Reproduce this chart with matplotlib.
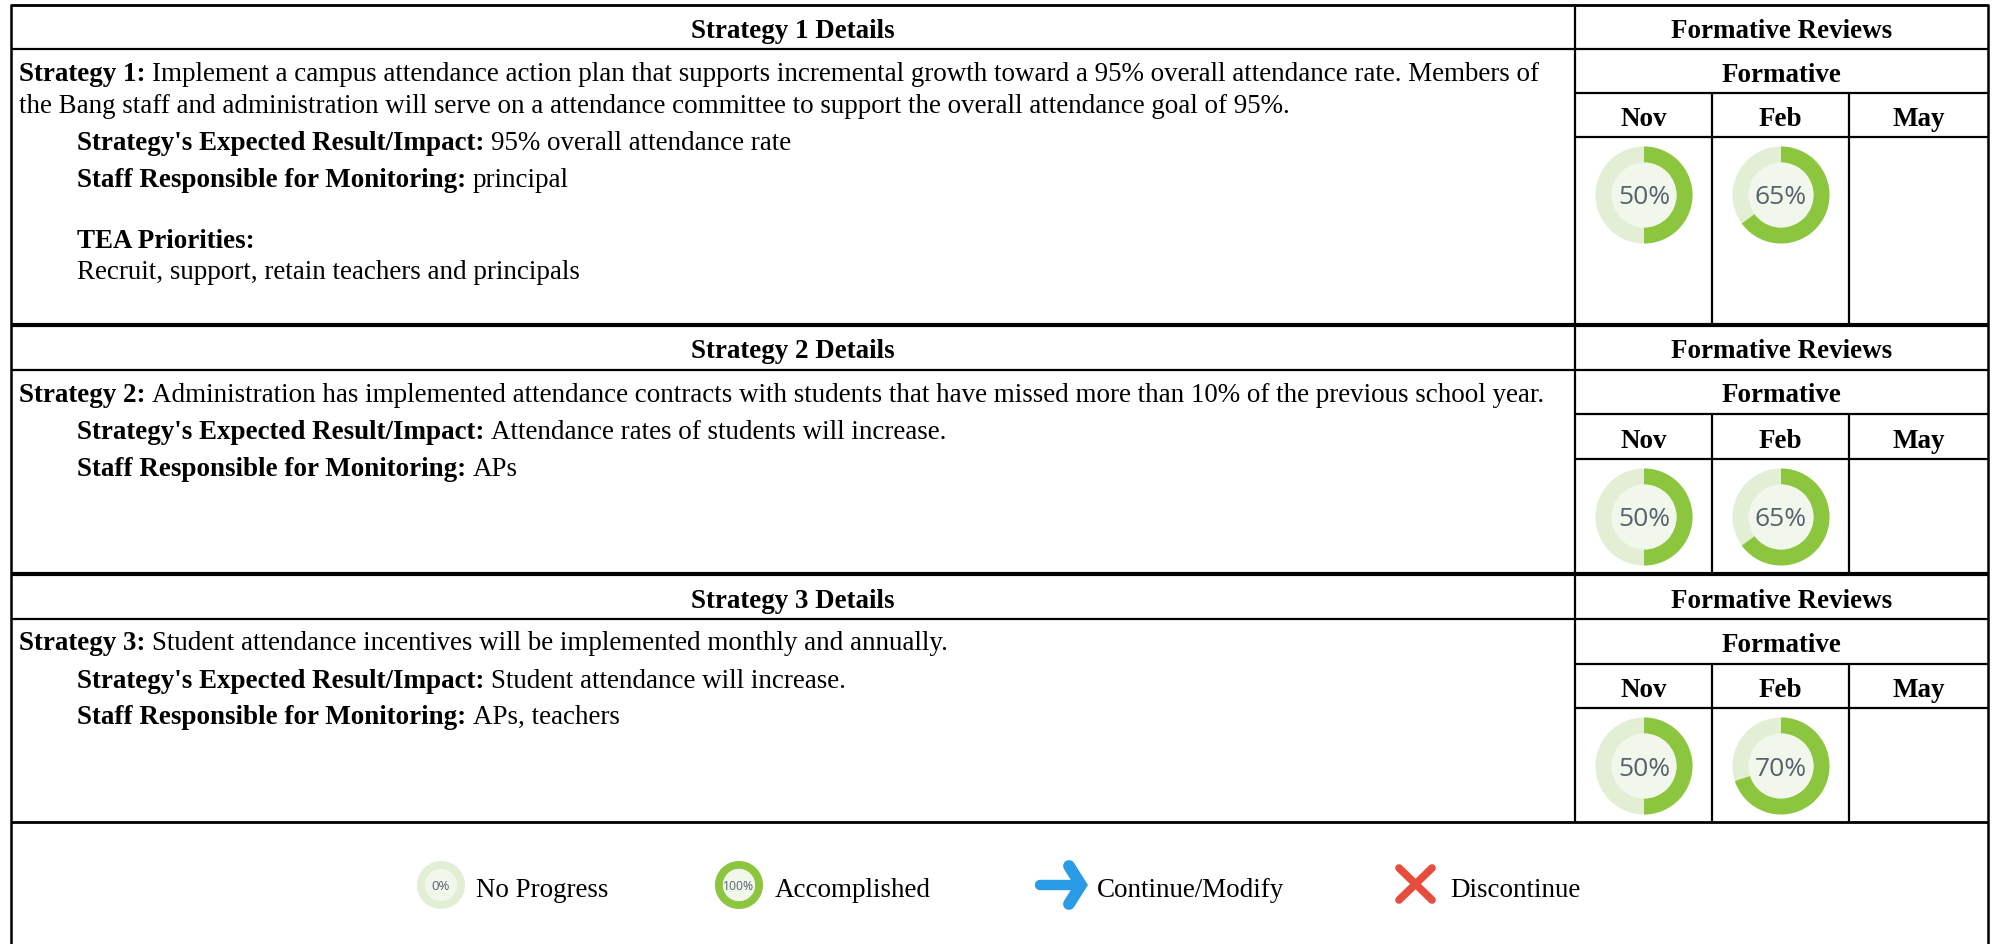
import matplotlib
matplotlib.use("Agg")
import matplotlib.pyplot as plt
from matplotlib.patches import Circle, Wedge

plt.rcParams["font.family"] = ["Liberation Serif", "DejaVu Serif"]

W, H = 1993, 944
FS = 19.47
BLACK = "#000000"
GREEN = "#8cc63f"
PALE = "#e2efd5"
INNER = "#f1f7eb"
BLUE = "#2a9be6"
RED = "#e84c3d"

months = ["Nov", "Feb", "May"]
headers = ["Strategy 1 Details", "Strategy 2 Details", "Strategy 3 Details"]
review_title = "Formative Reviews"
formative_title = "Formative"
expected_label = "Strategy's Expected Result/Impact:"
staff_label = "Staff Responsible for Monitoring:"

strategy_text = [
    ["Implement a campus attendance action plan that supports incremental growth toward a 95% overall attendance rate. Members of",
     "the Bang staff and administration will serve on a attendance committee to support the overall attendance goal of 95%."],
    ["Administration has implemented attendance contracts with students that have missed more than 10% of the previous school year."],
    ["Student attendance incentives will be implemented monthly and annually."],
]
expected = [
    "95% overall attendance rate",
    "Attendance rates of students will increase.",
    "Student attendance will increase.",
]
staff = ["principal", "APs", "APs, teachers"]
priority_label = "TEA Priorities:"
priority_text = "Recruit, support, retain teachers and principals"

nov_progress = [50, 50, 50]
feb_progress = [65, 65, 70]

legend_labels = ["No Progress", "Accomplished", "Continue/Modify", "Discontinue"]

# pixel layout: top, header line, formative line, month line, bottom
row_lines = [(5, 49, 93, 137, 324), (325, 370, 414, 459, 573), (574, 619, 664, 708, 822)]
text_base = [
    [81, 113, 150, 187],
    [402, 439, 476],
    [650, 688, 724],
]
X_LEFT, X_SPLIT, X_NOV, X_FEB, X_RIGHT = 11, 1575, 1712, 1849, 1988
NOV_CX, FEB_CX = 1644, 1781

fig = plt.figure(figsize=(W / 100, H / 100), dpi=100)
ax = fig.add_axes([0, 0, 1, 1])
ax.set_xlim(0, W)
ax.set_ylim(H, 0)
ax.axis("off")


def hline(y, x0=X_LEFT, x1=X_RIGHT, lw=1.6):
    ax.plot([x0, x1], [y, y], color=BLACK, lw=lw, solid_capstyle="butt")


def vline(x, y0, y1, lw=1.6):
    ax.plot([x, x], [y0, y1], color=BLACK, lw=lw, solid_capstyle="butt")


def rich(x, y, parts):
    # bold label followed by regular text on one baseline
    renderer = fig.canvas.get_renderer()
    for txt, bold in parts:
        t = ax.text(x, y, txt, fontsize=FS, fontweight="bold" if bold else "normal",
                    va="baseline", ha="left", color=BLACK)
        x = t.get_window_extent(renderer).x1 + 6.8


def centered(x, y, txt):
    ax.text(x, y, txt, fontsize=FS, fontweight="bold", ha="center", va="baseline", color=BLACK)


def donut(cx, cy, r, value, label, fs, inner=0.67):
    ax.add_patch(Circle((cx, cy), r, fc=PALE, ec="none"))
    ax.add_patch(Wedge((cx, cy), r, -90, -90 + 3.6 * value, width=r * (1 - inner), fc=GREEN, ec="none"))
    ax.add_patch(Circle((cx, cy), r * inner, fc=INNER, ec="none"))
    ax.text(cx, cy, label, fontsize=fs, family="Open Sans", color="#56626e", ha="center", va="center_baseline")


for i, (top, head, form, month, bottom) in enumerate(row_lines):
    hline(head)
    hline(form, X_SPLIT)
    hline(month, X_SPLIT)
    vline(X_SPLIT, top, bottom)
    vline(X_NOV, form, bottom)
    vline(X_FEB, form, bottom)
    centered((X_LEFT + X_SPLIT) / 2, head - 11.5, headers[i])
    centered((X_SPLIT + X_RIGHT) / 2, head - 11.5, review_title)
    centered((X_SPLIT + X_RIGHT) / 2, form - 11.5, formative_title)
    centered((X_SPLIT + X_NOV) / 2, month - 11, months[0])
    centered((X_NOV + X_FEB) / 2, month - 11, months[1])
    centered((X_FEB + X_RIGHT) / 2, month - 11, months[2])

    base = text_base[i]
    lines = strategy_text[i]
    rich(19, base[0], [(f"Strategy {i + 1}:", True), (lines[0], False)])
    if len(lines) > 1:
        ax.text(19, base[1], lines[1], fontsize=FS, va="baseline", color=BLACK)
    rich(77, base[-2], [(expected_label, True), (expected[i], False)])
    rich(77, base[-1], [(staff_label, True), (staff[i], False)])

    cy = month + 58
    donut(NOV_CX, cy, 48.5, nov_progress[i], f"{nov_progress[i]}%", 19)
    donut(FEB_CX, cy, 48.5, feb_progress[i], f"{feb_progress[i]}%", 19)

ax.text(77, 248, priority_label, fontsize=FS, fontweight="bold", va="baseline", color=BLACK)
ax.text(77, 279, priority_text, fontsize=FS, va="baseline", color=BLACK)

# section rules and outer frame
hline(5, lw=2)
hline(324.5, lw=3)
hline(573.5, lw=3)
hline(822, lw=2)
vline(X_LEFT, 4, H, lw=1.8)
vline(X_RIGHT, 4, H, lw=1.8)

# legend
donut(441, 885, 24, 0, "0%", 9.5)
donut(739, 885, 24, 100, "100%", 8.7)
ax.plot([1040, 1080], [885, 885], color=BLUE, lw=7.5, solid_capstyle="round")
ax.plot([1069, 1081, 1069], [866, 885, 904], color=BLUE, lw=8.5,
        solid_capstyle="round", solid_joinstyle="miter")
ax.plot([1399, 1432], [868, 900], color=RED, lw=5.5, solid_capstyle="round")
ax.plot([1432, 1399], [868, 900], color=RED, lw=5.5, solid_capstyle="round")
for x, label in zip([476, 775, 1097, 1450], legend_labels):
    ax.text(x, 897, label, fontsize=FS, va="baseline", color=BLACK)

fig.savefig("out.png", dpi=100)
